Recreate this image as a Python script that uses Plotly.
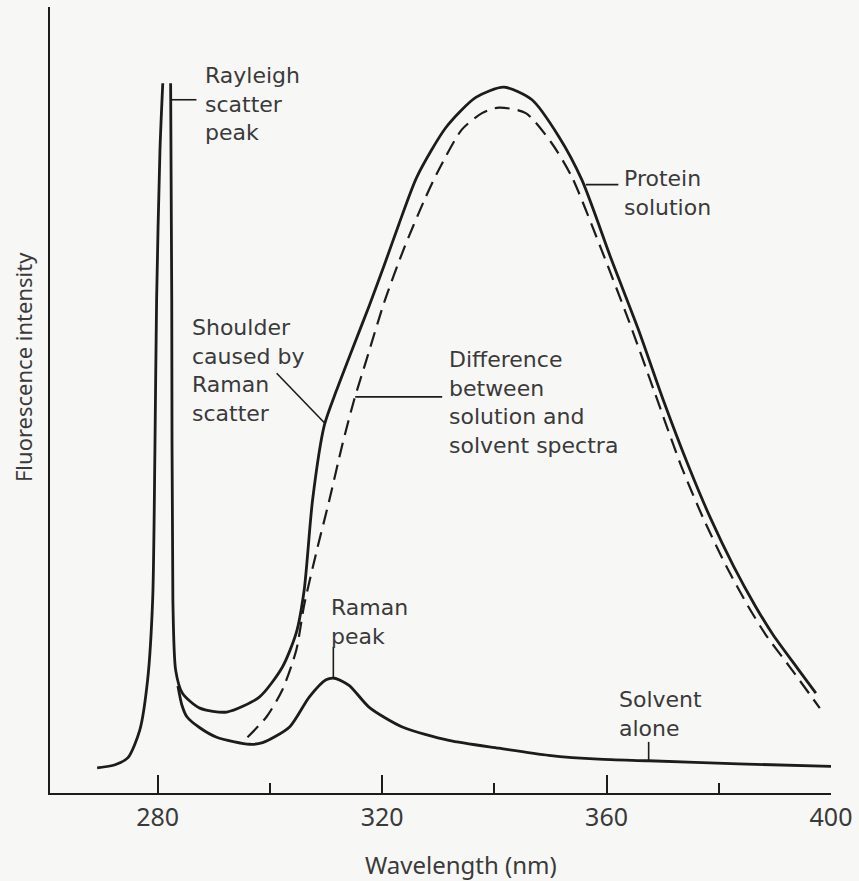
import plotly.graph_objects as go

# ---------------- data (wavelength in nm, intensity in arbitrary units) ----------------
rayleigh_nm = [269.2, 272.4, 274.7, 276.8, 278.2, 279.1, 279.5, 279.8, 280.4, 280.9]
rayleigh_int = [3.2, 3.6, 4.5, 8.0, 14.4, 24.6, 43.6, 62.7, 81.8, 90.3]

solution_nm = [282.3, 282.5, 282.7, 283.2, 284.4, 287.5, 292.3, 298.1, 302.2, 304.7,
               306.1, 307.6, 309.7, 311.8, 314.7, 317.7, 320.4, 323.0, 326.2, 331.4,
               336.7, 341.7, 346.7, 351.5, 355.6, 360.9, 365.7, 370.1, 374.6, 378.5,
               382.6, 386.5, 389.7, 394.1, 397.3]
solution_int = [90.3, 62.7, 24.6, 15.6, 12.7, 10.8, 10.3, 12.2, 16.0, 20.4,
                25.8, 37.3, 46.8, 51.1, 56.5, 62.0, 67.2, 72.4, 78.4, 84.7,
                88.5, 89.8, 88.2, 83.5, 78.0, 67.8, 58.9, 50.0, 41.6, 35.0,
                28.9, 23.8, 20.1, 15.8, 12.7]

difference_nm = [296.0, 299.4, 302.2, 304.7, 306.1, 308.4, 310.6, 312.9, 315.0, 317.2,
                 320.4, 323.9, 327.5, 330.1, 334.2, 337.8, 340.8, 345.6, 350.2, 353.8,
                 359.1, 363.9, 368.4, 373.3, 377.2, 381.3, 385.2, 388.4, 392.9, 398.0]
difference_int = [7.1, 9.7, 13.1, 18.2, 23.9, 31.0, 37.3, 44.3, 50.0, 55.1,
                  62.5, 69.3, 75.4, 79.3, 84.4, 86.5, 87.2, 86.5, 82.7, 78.4,
                  69.1, 60.2, 51.3, 41.6, 35.0, 28.9, 23.8, 20.1, 15.8, 10.8]

solvent_nm = [283.6, 284.3, 285.2, 287.5, 290.5, 296.4, 298.7, 303.5, 307.0, 310.0,
              311.5, 314.1, 317.7, 323.6, 331.9, 340.8, 349.7, 358.6, 367.5, 383.5, 400.0]
solvent_int = [13.6, 11.2, 9.7, 8.3, 7.1, 6.2, 6.4, 8.4, 12.2, 14.4,
               14.6, 13.7, 10.9, 8.4, 6.7, 5.7, 4.8, 4.3, 4.1, 3.7, 3.4]

tick_vals = [280, 320, 360, 400]
tick_text = ["280", "320", "360", "400"]
minor_tick_vals = [300, 340, 380]
x_range = [260.8, 400]
y_range = [0, 100]

# labels: (text, x, y of block top) and leader lines: (x0, y0, x1, y1)
labels = [
    ("Rayleigh<br>scatter<br>peak", 288.0, 93.1),
    ("Protein<br>solution", 362.7, 80.0),
    ("Shoulder<br>caused by<br>Raman<br>scatter", 285.7, 61.1),
    ("Difference<br>between<br>solution and<br>solvent spectra", 331.6, 57.0),
    ("Raman<br>peak", 310.6, 25.4),
    ("Solvent<br>alone", 361.8, 13.7),
]
leaders = [
    (282.5, 88.2, 286.9, 88.2),
    (356.3, 77.4, 362.1, 77.4),
    (301.2, 53.4, 309.7, 47.1),
    (315.2, 50.4, 330.7, 50.4),
    (311.3, 18.6, 311.3, 14.6),
    (367.5, 6.5, 367.5, 4.2),
]

INK = "#1c1c1c"
TXT = "#3a3a3a"
FONT = "Noto Sans"
LABEL_FONT = "DejaVu Sans"
BG = "#f7f7f6"

fig = go.Figure()
line_solid = dict(color=INK, width=2.8, shape="spline", smoothing=0.7)
fig.add_trace(go.Scatter(x=rayleigh_nm, y=rayleigh_int, mode="lines", line=line_solid,
                         name="Rayleigh scatter"))
fig.add_trace(go.Scatter(x=solution_nm, y=solution_int, mode="lines", line=line_solid,
                         name="Protein solution"))
fig.add_trace(go.Scatter(x=solvent_nm, y=solvent_int, mode="lines", line=line_solid,
                         name="Solvent alone"))
fig.add_trace(go.Scatter(x=difference_nm, y=difference_int, mode="lines",
                         line=dict(color=INK, width=2.2, dash="15px,8px", shape="spline", smoothing=0.7),
                         name="Difference"))

for text, x, y in labels:
    fig.add_annotation(x=x, y=y, xref="x", yref="y", text=text,
                       showarrow=False, xanchor="left", yanchor="top", align="left",
                       font=dict(family=LABEL_FONT, size=22, color=TXT))
for x0, y0, x1, y1 in leaders:
    fig.add_shape(type="line", xref="x", yref="y", x0=x0, y0=y0, x1=x1, y1=y1,
                  line=dict(color=INK, width=1.6))

fig.add_annotation(x=334.0, y=-0.0916, xref="x", yref="paper", text="Wavelength (nm)",
                   showarrow=False, xanchor="center", yanchor="middle",
                   font=dict(family=FONT, size=24, color=TXT))
fig.add_annotation(x=-0.0345, y=0.542, xref="paper", yref="paper", text="Fluorescence intensity",
                   showarrow=False, textangle=-90, xanchor="center", yanchor="middle",
                   font=dict(family=FONT, size=22, color=TXT))

fig.update_xaxes(range=x_range, showline=True, linecolor=INK, linewidth=2,
                 showgrid=False, zeroline=False, tickvals=tick_vals, ticktext=tick_text,
                 ticks="inside", ticklen=18, tickwidth=1.6, tickcolor=INK,
                 ticklabelstandoff=1,
                 tickfont=dict(family=FONT, size=25, color=TXT),
                 minor=dict(tickvals=minor_tick_vals, ticks="inside", ticklen=10,
                            tickwidth=1.6, tickcolor=INK))
fig.update_yaxes(range=y_range, showline=True, linecolor=INK, linewidth=2,
                 showgrid=False, zeroline=False, showticklabels=False, ticks="")

fig.update_layout(width=859, height=881, margin=dict(l=50, r=26, t=7, b=88),
                  paper_bgcolor=BG, plot_bgcolor=BG, showlegend=False)

fig.write_html("out.html")
